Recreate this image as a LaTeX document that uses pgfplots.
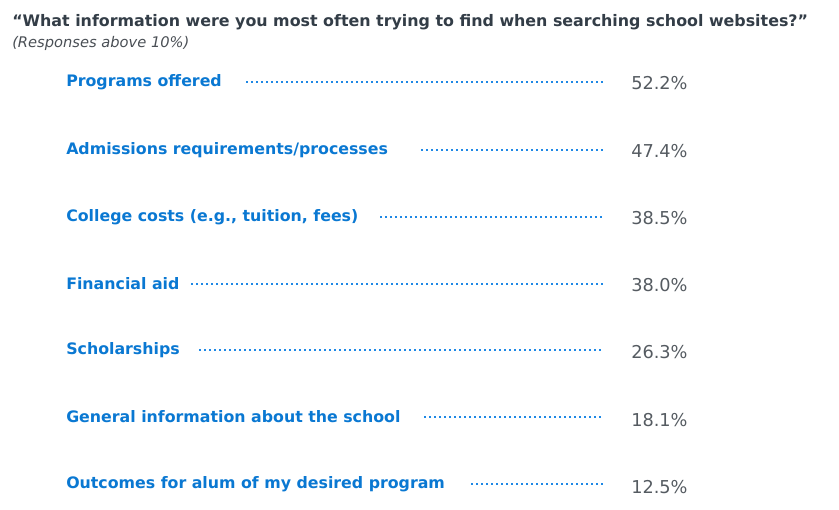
\documentclass[border=0pt]{standalone}
\usepackage{pgfplots}
\pgfplotsset{compat=1.18}
\usepackage{fontspec}
\setmainfont{DejaVu Sans}
\definecolor{lblblue}{HTML}{0A78D2}
\definecolor{dotblue}{HTML}{1E88E5}
\definecolor{valgray}{HTML}{555B61}
\definecolor{subgray}{HTML}{4A4F55}
\definecolor{titlegray}{HTML}{333D47}
\tikzset{
  lbl/.style={anchor=west, text=lblblue, font=\bfseries\fontsize{11.85}{14}\selectfont, inner sep=0pt},
  leader/.style={dotblue, line width=1.5pt, line cap=butt, dash pattern=on 1.5pt off 2.25pt},
}
\begin{document}
\begin{tikzpicture}
\begin{axis}[
  scale only axis, width=629.25pt, height=382.5pt,
  xmin=0, xmax=839, ymin=0, ymax=510, y dir=reverse,
  hide axis, clip=false,
]
\draw[draw=none] (rel axis cs:0,0) rectangle (rel axis cs:1,1);
% title and subtitle
\node[anchor=west, text=titlegray, font=\bfseries\fontsize{11.9}{14}\selectfont, inner sep=0pt] at (axis cs:12,22) {“What information were you most often trying to find when searching school websites?”};
\node[anchor=west, text=subgray, font=\itshape\fontsize{11}{13}\selectfont, inner sep=0pt] at (axis cs:12,43) {(Responses above 10\%)};
% category labels
\node[lbl] at (axis cs:66,82) {Programs offered};
\node[lbl] at (axis cs:66,150) {Admissions requirements/processes};
\node[lbl] at (axis cs:66,217) {College costs (e.g., tuition, fees)};
\node[lbl] at (axis cs:66,284) {Financial aid};
\node[lbl] at (axis cs:66,350) {Scholarships};
\node[lbl] at (axis cs:66,417) {General information about the school};
\node[lbl] at (axis cs:66,484) {Outcomes for alum of my desired program};
% leaders
\addplot[leader] coordinates {(246,82) (605,82)};
\addplot[leader] coordinates {(421,150) (603,150)};
\addplot[leader] coordinates {(380,217) (603,217)};
\addplot[leader] coordinates {(191,284) (605,284)};
\addplot[leader] coordinates {(199,350) (601,350)};
\addplot[leader] coordinates {(424,417) (603,417)};
\addplot[leader] coordinates {(471,484) (603,484)};
% values
\addplot[draw=none, mark=none, point meta=explicit,
  nodes near coords={\pgfmathprintnumber[fixed,fixed zerofill,precision=1]{\pgfplotspointmeta}\%},
  nodes near coords style={anchor=west, inner sep=0pt, text=valgray, font=\fontsize{13.3}{15}\selectfont, /pgf/number format/assume math mode=true}]
  coordinates {
  (631,83) [52.2]
  (631,151) [47.4]
  (631,218) [38.5]
  (631,285) [38.0]
  (631,352) [26.3]
  (631,420) [18.1]
  (631,487) [12.5]
  };
\end{axis}
\end{tikzpicture}
\end{document}
